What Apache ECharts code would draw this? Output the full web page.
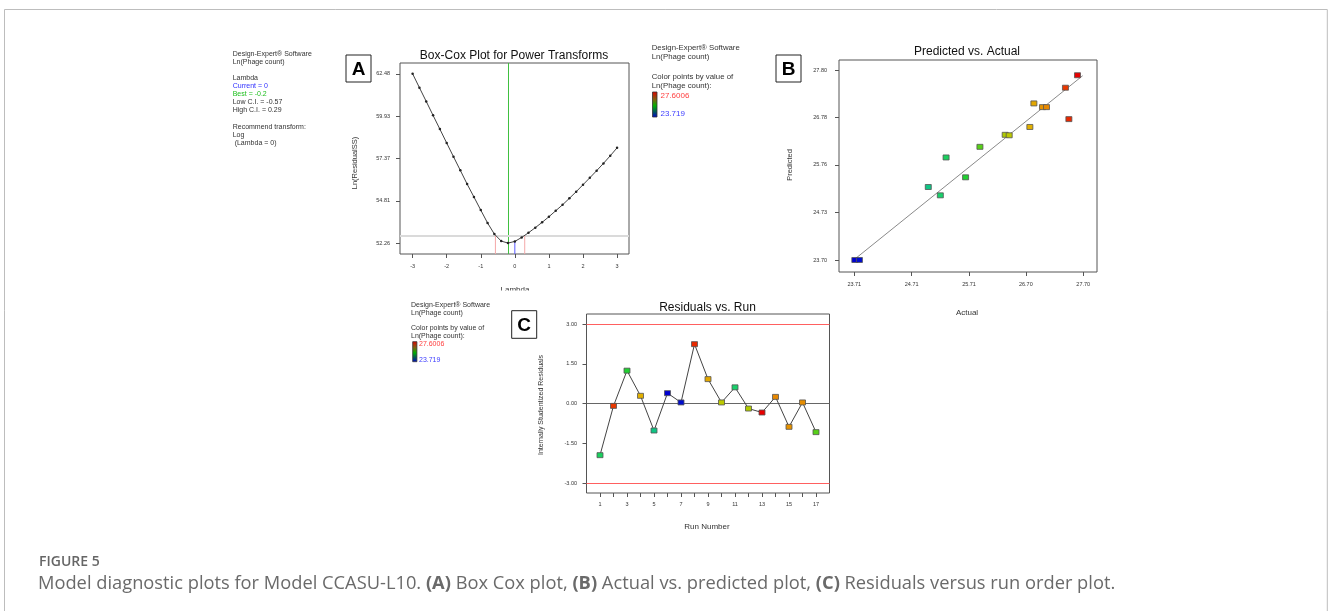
<!DOCTYPE html>
<html><head><meta charset="utf-8">
<script src="https://cdn.jsdelivr.net/npm/echarts@6/dist/echarts.min.js"></script>
<style>html,body{margin:0;padding:0;background:#fff}#c{width:1328px;height:611px}</style>
</head><body><div id="c"></div>
<script>
// ---------- Panel A: Box-Cox ----------
const lambdaValues = [-3,-2.8,-2.6,-2.4,-2.2,-2,-1.8,-1.6,-1.4,-1.2,-1,-0.8,-0.6,-0.4,-0.2,0,0.2,0.4,0.6,0.8,1,1.2,1.4,1.6,1.8,2,2.2,2.4,2.6,2.8,3];
const lnResidualSS = [62.48,61.64,60.81,59.97,59.14,58.30,57.47,56.65,55.82,55.04,54.25,53.47,52.80,52.38,52.26,52.36,52.60,52.88,53.19,53.51,53.85,54.21,54.57,54.96,55.36,55.78,56.20,56.63,57.07,57.53,58.01];
const lambdaTicks = [-3,-2,-1,0,1,2,3];
const lnSSTicks = [52.26,54.81,57.37,59.93,62.48];
const lambdaCurrent = 0, lambdaBest = -0.2, lambdaLowCI = -0.57, lambdaHighCI = 0.29;
const ssAtCurrent = 52.36, ssCIThreshold = 52.70;
const lambdaRange = [-3.37, 3.35], lnSSRange = [51.60, 63.13];

// ---------- Panel B: Predicted vs Actual ----------
const actualValues    = [23.72,23.80,25.00,25.21,25.31,25.65,25.90,26.34,26.41,26.77,26.84,26.99,27.06,27.39,27.45,27.60];
const predictedValues = [23.70,23.70,25.28,25.10,25.92,25.49,26.15,26.41,26.40,26.58,27.09,27.01,27.01,27.43,26.75,27.70];
const actualTicks = [23.71,24.71,25.71,26.70,27.70];
const predictedTicks = [23.70,24.73,25.76,26.78,27.80];
const diagonalRange = [23.72, 27.69];
const actualRange = [23.444, 27.94], predictedRange = [23.44, 28.03];
const responseMin = 23.719, responseMax = 27.6006;

// ---------- Panel C: Residuals vs Run ----------
const runNumbers = [1,2,3,4,5,6,7,8,9,10,11,12,13,14,15,16,17];
const residuals  = [-1.95,-0.09,1.24,0.29,-1.02,0.39,0.04,2.24,0.92,0.04,0.61,-0.19,-0.34,0.25,-0.88,0.04,-1.08];
const runResponse = [25.31,27.39,25.65,26.77,25.00,23.72,23.80,27.45,26.84,26.41,25.21,26.34,27.60,27.06,26.99,27.02,25.90];
const runTickValues = [1,2,3,4,5,6,7,8,9,10,11,12,13,14,15,16,17];
const runLabelValues = [1,3,5,7,9,11,13,15,17];
const residualTicks = [-3,-1.5,0,1.5,3];
const residualLimit = 3;
const runRange = [0, 18], residualRange = [-3.378, 3.378];

const palette = ['#0000d0','#0050c0','#00b0a8','#18d070','#20d030','#90d000','#e0c400','#e88000','#e80000'];
const FF = 'Liberation Sans, Arial, sans-serif';
const tickLabel = {fontSize:5.5, color:'#333', fontFamily:FF};

function valAxis(idx, range, ticks, labels, margin, fmt) {
  return {
    type:'value', gridIndex:idx, min:range[0], max:range[1],
    axisLine:{show:false, onZero:false},
    splitLine:{show:false},
    axisTick:{show:true, length:4, customValues:ticks, lineStyle:{color:'#555', width:1}},
    axisLabel:Object.assign({show:true, margin:margin, customValues:labels, formatter:fmt}, tickLabel)
  };
}
const f2 = v => Number(v).toFixed(2);
const f0 = v => String(v);

const chart = echarts.init(document.getElementById('c'), null, {renderer:'canvas'});

function txt(x, y, text, opt) {
  opt = opt || {};
  return {type:'text', z:100, x:x, y:y, rotation:opt.rot||0,
    style:{text:text, x:0, y:0, fill:opt.color||'#333',
      font:(opt.weight||'normal')+' '+(opt.size||7)+'px '+(opt.family||FF),
      textAlign:opt.align||'left', textVerticalAlign:'middle'}};
}
function box(x, y, w, h, letter) {
  return [
    {type:'rect', z:100, shape:{x:x, y:y, width:w, height:h}, style:{fill:'#fff', stroke:'#222', lineWidth:1}},
    txt(x+w/2, y+h/2+1, letter, {size:19, weight:'bold', align:'center', color:'#000'})
  ];
}
function gradBar(x, y, w, h) {
  return {type:'rect', z:100, shape:{x:x, y:y, width:w, height:h},
    style:{stroke:'#333', lineWidth:0.8,
      fill:new echarts.graphic.LinearGradient(0,0,0,1,[
        {offset:0,color:'#e00000'},{offset:0.3,color:'#806010'},{offset:0.55,color:'#00b000'},
        {offset:0.8,color:'#005060'},{offset:1,color:'#0000d0'}])}};
}

const graphics = [
  {type:'rect', z:0, shape:{x:4.5, y:9.5, width:1322.8, height:640}, style:{fill:'none', stroke:'#bdbdbd', lineWidth:1}},
  // Panel A texts
  txt(232.7, 54, 'Design-Expert® Software'),
  txt(232.7, 62, 'Ln(Phage count)'),
  txt(232.7, 78.5, 'Lambda'),
  txt(232.7, 86.5, 'Current = 0', {color:'#3030ff'}),
  txt(232.7, 94.5, 'Best = -0.2', {color:'#20c020'}),
  txt(232.7, 102.5, 'Low C.I. = -0.57'),
  txt(232.7, 110.5, 'High C.I. = 0.29'),
  txt(232.7, 127.5, 'Recommend transform:'),
  txt(232.7, 135.5, 'Log'),
  txt(232.7, 143.5, ' (Lambda = 0)'),
  ...box(346, 55, 25, 27, 'A'),
  txt(514, 56, 'Box-Cox Plot for Power Transforms', {size:12, align:'center', color:'#111'}),
  txt(355, 163, 'Ln(ResidualSS)', {size:7.5, align:'center', rot:Math.PI/2}),
  txt(515, 290, 'Lambda', {size:8, align:'center'}),
  {type:'rect', z:101, shape:{x:480, y:290.5, width:80, height:9}, style:{fill:'#fff'}},
  // Panel B texts
  txt(651.7, 48, 'Design-Expert® Software', {size:7.8}),
  txt(651.7, 57, 'Ln(Phage count)', {size:7.8}),
  txt(651.7, 77, 'Color points by value of', {size:7.8}),
  txt(651.7, 86, 'Ln(Phage count):', {size:7.8}),
  gradBar(652.5, 92, 4.5, 25),
  txt(660.5, 96, '27.6006', {size:8, color:'#ff4040'}),
  txt(660.5, 114, '23.719', {size:8, color:'#4040ff'}),
  ...box(776, 55, 25, 27, 'B'),
  txt(967, 52, 'Predicted vs. Actual', {size:12, align:'center', color:'#111'}),
  txt(789.5, 165, 'Predicted', {size:7.5, align:'center', rot:Math.PI/2}),
  txt(967, 312.5, 'Actual', {size:8, align:'center'}),
  // Panel C texts
  txt(411, 305, 'Design-Expert® Software'),
  txt(411, 312.7, 'Ln(Phage count)'),
  txt(411, 328, 'Color points by value of'),
  txt(411, 336, 'Ln(Phage count):'),
  gradBar(412.7, 341.7, 4.2, 20),
  txt(419, 344.5, '27.6006', {color:'#ff4040'}),
  txt(419, 360, '23.719', {color:'#4040ff'}),
  ...box(511.7, 310.7, 25, 27.6, 'C'),
  txt(707.5, 307.3, 'Residuals vs. Run', {size:12, align:'center', color:'#111'}),
  txt(540.7, 405, 'Internally Studentized Residuals', {size:7, align:'center', rot:Math.PI/2}),
  txt(707, 526.7, 'Run Number', {size:8, align:'center'})
];

const option = {
  animation:false,
  backgroundColor:'#fff',
  textStyle:{fontFamily:FF},
  title:[
    {text:'FIGURE 5', left:34, top:550, textStyle:{fontSize:14, fontWeight:600, color:'#666', fontFamily:'Open Sans'}},
    {text:'Model diagnostic plots for Model CCASU-L10. {b|(A)} Box Cox plot, {b|(B)} Actual vs. predicted plot, {b|(C)} Residuals versus run order plot.',
     left:33, top:570,
     textStyle:{fontSize:18.3, fontWeight:'normal', color:'#6a6a6a', fontFamily:'Open Sans',
       rich:{b:{fontSize:18.3, fontWeight:'bold', color:'#6a6a6a', fontFamily:'Open Sans'}}}}
  ],
  grid:[
    {left:400, top:63, width:229, height:191, show:true, borderColor:'#555', borderWidth:1, backgroundColor:'transparent'},
    {left:839, top:60, width:258, height:212, show:true, borderColor:'#555', borderWidth:1, backgroundColor:'transparent'},
    {left:586.5, top:314, width:243, height:179, show:true, borderColor:'#555', borderWidth:1, backgroundColor:'transparent'}
  ],
  xAxis:[
    valAxis(0, lambdaRange, lambdaTicks, lambdaTicks, 9, f0),
    valAxis(1, actualRange, actualTicks, actualTicks, 9.5, f2),
    valAxis(2, runRange, runTickValues, runLabelValues, 8, f0)
  ],
  yAxis:[
    valAxis(0, lnSSRange, lnSSTicks, lnSSTicks, 10, f2),
    valAxis(1, predictedRange, predictedTicks, predictedTicks, 12, f2),
    valAxis(2, residualRange, residualTicks, residualTicks, 9.5, f2)
  ],
  visualMap:[
    {type:'continuous', show:false, min:responseMin, max:responseMax, dimension:0, seriesIndex:5, inRange:{color:palette}},
    {type:'continuous', show:false, min:responseMin, max:responseMax, dimension:2, seriesIndex:7, inRange:{color:palette}}
  ],
  series:[
    {type:'line', xAxisIndex:0, yAxisIndex:0, z:5,
     data:lambdaValues.map((l,i)=>[l, lnResidualSS[i]]),
     symbol:'circle', symbolSize:2.5, itemStyle:{color:'#222'}, lineStyle:{color:'#444', width:1},
     markLine:{silent:true, symbol:'none', label:{show:false}, z:2,
       data:[
         {xAxis:lambdaBest, lineStyle:{color:'#40c040', width:1, type:'solid'}},
         {yAxis:ssCIThreshold, lineStyle:{color:'#dadada', width:2, type:'solid'}}
       ]}},
    {type:'line', xAxisIndex:0, yAxisIndex:0, z:3, symbol:'none',
     data:[[lambdaCurrent, lnSSRange[0]],[lambdaCurrent, ssAtCurrent]], lineStyle:{color:'#5a5aff', width:1}},
    {type:'line', xAxisIndex:0, yAxisIndex:0, z:3, symbol:'none',
     data:[[lambdaLowCI, lnSSRange[0]],[lambdaLowCI, ssCIThreshold]], lineStyle:{color:'#f4a8a8', width:1}},
    {type:'line', xAxisIndex:0, yAxisIndex:0, z:3, symbol:'none',
     data:[[lambdaHighCI, lnSSRange[0]],[lambdaHighCI, ssCIThreshold]], lineStyle:{color:'#f4a8a8', width:1}},
    {type:'line', xAxisIndex:1, yAxisIndex:1, z:3, symbol:'none',
     data:[[diagonalRange[0], diagonalRange[0]],[diagonalRange[1], diagonalRange[1]]], lineStyle:{color:'#8a8a8a', width:1}},
    {type:'scatter', xAxisIndex:1, yAxisIndex:1, z:6, symbol:'rect', symbolSize:[6,5],
     data:actualValues.map((a,i)=>[a, predictedValues[i]]),
     itemStyle:{borderColor:'#555', borderWidth:0.8, opacity:1}},
    {type:'line', xAxisIndex:2, yAxisIndex:2, z:4, symbol:'none',
     data:runNumbers.map((r,i)=>[r, residuals[i]]), lineStyle:{color:'#444', width:1},
     markLine:{silent:true, symbol:'none', label:{show:false}, z:2,
       data:[
         {yAxis:residualLimit, lineStyle:{color:'#ff6060', width:1, type:'solid'}},
         {yAxis:-residualLimit, lineStyle:{color:'#ff6060', width:1, type:'solid'}},
         {yAxis:0, lineStyle:{color:'#666', width:1, type:'solid'}}
       ]}},
    {type:'scatter', xAxisIndex:2, yAxisIndex:2, z:6, symbol:'rect', symbolSize:[6,5],
     data:runNumbers.map((r,i)=>[r, residuals[i], runResponse[i]]),
     itemStyle:{borderColor:'#555', borderWidth:0.8, opacity:1}}
  ],
  graphic:graphics
};
chart.setOption(option);
</script></body></html>
